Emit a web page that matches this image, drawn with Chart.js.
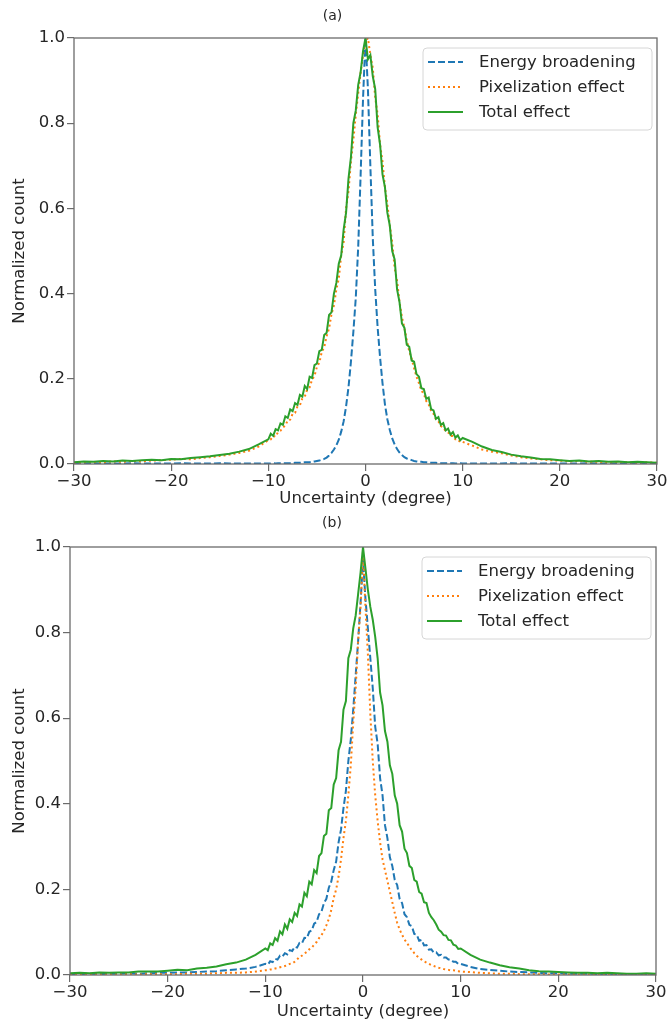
<!DOCTYPE html>
<html>
<head>
<meta charset="utf-8">
<title>Uncertainty distributions</title>
<script src="https://cdn.jsdelivr.net/npm/chart.js@4.4.1/dist/chart.umd.min.js"></script>
<style>
    html, body { margin: 0; padding: 0; background: #ffffff; }
    body { width: 672px; height: 1030px; position: relative; overflow: hidden; }
    canvas { position: absolute; left: 0; }
    #panel-a { top: 0; }
    #panel-b { top: 509px; }
</style>
</head>
<body>
<canvas id="panel-a" width="672" height="509"></canvas>
<canvas id="panel-b" width="672" height="521"></canvas>
<script>
/* ------------------------------------------------------------
   Data (normalized counts).
   x is the bin centre in degrees: 1 deg in the tails,
   0.25 deg between -10 and 10.
   ------------------------------------------------------------ */
const seriesNames = ['Energy broadening', 'Pixelization effect', 'Total effect'];
const xTicks = [-30, -20, -10, 0, 10, 20, 30];
const yTicks = [0, 0.2, 0.4, 0.6, 0.8, 1.0];

const xs = [
    -30, -29, -28, -27, -26, -25, -24, -23, -22, -21, -20, -19, -18, -17, -16, -15, -14, -13, -12, -11,
    -10, -9.75, -9.5, -9.25, -9, -8.75, -8.5, -8.25, -8, -7.75, -7.5, -7.25, -7, -6.75, -6.5, -6.25,
    -6, -5.75, -5.5, -5.25, -5, -4.75, -4.5, -4.25, -4, -3.75, -3.5, -3.25, -3, -2.75, -2.5, -2.25,
    -2, -1.75, -1.5, -1.25, -1, -0.75, -0.5, -0.25, 0, 0.25, 0.5, 0.75, 1, 1.25, 1.5, 1.75, 2,
    2.25, 2.5, 2.75, 3, 3.25, 3.5, 3.75, 4, 4.25, 4.5, 4.75, 5, 5.25, 5.5, 5.75, 6,
    6.25, 6.5, 6.75, 7, 7.25, 7.5, 7.75, 8, 8.25, 8.5, 8.75, 9, 9.25, 9.5, 9.75, 10,
    11, 12, 13, 14, 15, 16, 17, 18, 19, 20, 21, 22, 23, 24, 25, 26, 27, 28, 29, 30
];

// (a)
const energyA = [
    0.001, 0.001, 0.002, 0.001, 0.001, 0.001, 0.002, 0.001, 0.001, 0.001, 0.001, 0.002, 0.001, 0.001, 0.001, 0.002, 0.001, 0.001, 0.001, 0.001,
    0.001, 0.001, 0.002, 0.001, 0.002, 0.002, 0.002, 0.002, 0.002, 0.002, 0.002, 0.003, 0.003, 0.003, 0.003, 0.004,
    0.004, 0.004, 0.005, 0.006, 0.007, 0.008, 0.010, 0.012, 0.015, 0.020, 0.026, 0.034, 0.044, 0.057, 0.076, 0.10,
    0.135, 0.18, 0.24, 0.31, 0.39, 0.51, 0.68, 0.86, 1.0, 0.88, 0.70, 0.53, 0.41, 0.32, 0.25, 0.19, 0.14,
    0.105, 0.08, 0.06, 0.046, 0.035, 0.027, 0.021, 0.016, 0.013, 0.011, 0.009, 0.007, 0.006, 0.005, 0.005, 0.004,
    0.004, 0.003, 0.003, 0.003, 0.003, 0.002, 0.002, 0.002, 0.002, 0.002, 0.002, 0.002, 0.001, 0.001, 0.002, 0.001,
    0.001, 0.001, 0.001, 0.001, 0.002, 0.001, 0.001, 0.001, 0.001, 0.001, 0.001, 0.001, 0.002, 0.001, 0.001, 0.001, 0.001, 0.001, 0.001, 0.001
];
const pixelA = [
    0.003, 0.004, 0.005, 0.004, 0.006, 0.005, 0.007, 0.006, 0.008, 0.009, 0.010, 0.012, 0.011, 0.014, 0.016, 0.019, 0.022, 0.026, 0.031, 0.041,
    0.056, 0.058, 0.066, 0.064, 0.075, 0.078, 0.086, 0.090, 0.103, 0.104, 0.118, 0.120, 0.135, 0.138, 0.154, 0.158,
    0.175, 0.180, 0.198, 0.207, 0.228, 0.238, 0.263, 0.274, 0.300, 0.318, 0.352, 0.372, 0.41, 0.435, 0.49, 0.52,
    0.60, 0.64, 0.71, 0.76, 0.82, 0.87, 0.92, 0.96, 0.99, 1.0, 0.96, 0.93, 0.86, 0.82, 0.75, 0.71, 0.65,
    0.61, 0.56, 0.52, 0.46, 0.43, 0.38, 0.345, 0.32, 0.29, 0.265, 0.247, 0.225, 0.205, 0.19, 0.172, 0.165,
    0.148, 0.140, 0.125, 0.118, 0.105, 0.100, 0.089, 0.086, 0.077, 0.074, 0.066, 0.066, 0.058, 0.058, 0.051, 0.052,
    0.043, 0.034, 0.029, 0.025, 0.020, 0.016, 0.013, 0.011, 0.009, 0.008, 0.006, 0.007, 0.005, 0.005, 0.004, 0.005, 0.004, 0.003, 0.004, 0.003
];
const totalA = [
    0.004, 0.006, 0.005, 0.007, 0.006, 0.008, 0.007, 0.009, 0.010, 0.009, 0.012, 0.011, 0.014, 0.016, 0.018, 0.021, 0.024, 0.029, 0.035, 0.046,
    0.058, 0.071, 0.066, 0.082, 0.079, 0.095, 0.092, 0.112, 0.108, 0.128, 0.124, 0.143, 0.139, 0.162, 0.158, 0.183,
    0.176, 0.205, 0.202, 0.232, 0.236, 0.265, 0.268, 0.303, 0.308, 0.350, 0.356, 0.400, 0.425, 0.47, 0.49, 0.55,
    0.59, 0.67, 0.72, 0.80, 0.83, 0.89, 0.92, 0.97, 1.0, 0.95, 0.96, 0.91, 0.88, 0.79, 0.75, 0.68, 0.65,
    0.59, 0.56, 0.50, 0.48, 0.41, 0.38, 0.33, 0.32, 0.28, 0.275, 0.243, 0.24, 0.211, 0.205, 0.178, 0.176,
    0.153, 0.156, 0.129, 0.126, 0.106, 0.110, 0.092, 0.096, 0.079, 0.083, 0.069, 0.075, 0.062, 0.067, 0.056, 0.061,
    0.052, 0.041, 0.033, 0.028, 0.022, 0.018, 0.015, 0.012, 0.011, 0.009, 0.007, 0.008, 0.006, 0.007, 0.005, 0.006, 0.004, 0.005, 0.004, 0.003
];

// (b)
const energyB = [
    0.002, 0.002, 0.003, 0.002, 0.003, 0.003, 0.004, 0.003, 0.004, 0.005, 0.005, 0.006, 0.006, 0.007, 0.008, 0.009, 0.011, 0.013, 0.015, 0.019,
    0.026, 0.024, 0.032, 0.030, 0.038, 0.036, 0.045, 0.043, 0.051, 0.048, 0.058, 0.056, 0.066, 0.064, 0.075, 0.074,
    0.087, 0.086, 0.101, 0.104, 0.120, 0.124, 0.142, 0.148, 0.168, 0.178, 0.204, 0.218, 0.245, 0.265, 0.31, 0.34,
    0.39, 0.43, 0.50, 0.55, 0.62, 0.70, 0.78, 0.87, 0.97, 0.88, 0.81, 0.74, 0.67, 0.58, 0.54, 0.46, 0.42,
    0.35, 0.32, 0.275, 0.255, 0.222, 0.21, 0.178, 0.168, 0.142, 0.135, 0.117, 0.114, 0.096, 0.094, 0.080, 0.082,
    0.069, 0.070, 0.059, 0.060, 0.052, 0.053, 0.046, 0.047, 0.041, 0.041, 0.036, 0.036, 0.031, 0.031, 0.026, 0.026,
    0.019, 0.014, 0.012, 0.010, 0.008, 0.007, 0.006, 0.005, 0.004, 0.004, 0.003, 0.003, 0.003, 0.002, 0.002, 0.002, 0.002, 0.002, 0.001, 0.001
];
const pixelB = [
    0.001, 0.001, 0.001, 0.001, 0.001, 0.001, 0.002, 0.001, 0.002, 0.002, 0.002, 0.002, 0.003, 0.003, 0.003, 0.004, 0.005, 0.005, 0.006, 0.008,
    0.011, 0.011, 0.013, 0.013, 0.015, 0.016, 0.018, 0.019, 0.021, 0.023, 0.026, 0.027, 0.031, 0.036, 0.043, 0.045,
    0.050, 0.054, 0.060, 0.064, 0.071, 0.077, 0.086, 0.093, 0.103, 0.116, 0.131, 0.152, 0.18, 0.20, 0.23, 0.27,
    0.32, 0.36, 0.42, 0.49, 0.59, 0.67, 0.78, 0.86, 0.99, 0.86, 0.75, 0.61, 0.50, 0.42, 0.36, 0.31, 0.27,
    0.245, 0.22, 0.195, 0.17, 0.145, 0.122, 0.106, 0.094, 0.083, 0.075, 0.066, 0.058, 0.051, 0.045, 0.040, 0.036,
    0.032, 0.029, 0.026, 0.023, 0.021, 0.019, 0.017, 0.016, 0.014, 0.013, 0.012, 0.011, 0.011, 0.010, 0.009, 0.008,
    0.007, 0.005, 0.004, 0.003, 0.003, 0.002, 0.002, 0.002, 0.001, 0.001, 0.001, 0.001, 0.001, 0.001, 0.001, 0.001, 0.001, 0.001, 0.001, 0.001
];
const totalB = [
    0.004, 0.005, 0.004, 0.006, 0.005, 0.006, 0.006, 0.008, 0.008, 0.008, 0.010, 0.012, 0.011, 0.015, 0.017, 0.020, 0.025, 0.029, 0.036, 0.047,
    0.062, 0.058, 0.074, 0.070, 0.086, 0.080, 0.102, 0.095, 0.118, 0.108, 0.130, 0.124, 0.145, 0.138, 0.165, 0.160,
    0.192, 0.184, 0.218, 0.212, 0.245, 0.238, 0.278, 0.285, 0.325, 0.330, 0.385, 0.390, 0.445, 0.46, 0.525, 0.545,
    0.62, 0.64, 0.74, 0.76, 0.81, 0.84, 0.89, 0.94, 1.0, 0.95, 0.90, 0.86, 0.83, 0.79, 0.74, 0.66, 0.63,
    0.57, 0.545, 0.49, 0.47, 0.42, 0.40, 0.35, 0.335, 0.295, 0.285, 0.255, 0.25, 0.222, 0.218, 0.194, 0.19,
    0.170, 0.168, 0.145, 0.135, 0.128, 0.118, 0.106, 0.101, 0.093, 0.092, 0.082, 0.081, 0.071, 0.069, 0.061, 0.062,
    0.047, 0.036, 0.029, 0.023, 0.018, 0.015, 0.011, 0.009, 0.008, 0.007, 0.006, 0.005, 0.005, 0.004, 0.005, 0.004, 0.003, 0.003, 0.004, 0.003
];

/* ------------------------------------------------------------
   Look & layout
   ------------------------------------------------------------ */
const FONT = '"DejaVu Sans", sans-serif';
const TEXT = '#262626';
const SPINE = '#6b6b6b';
const COLORS = ['#1f77b4', '#ff7f0e', '#2ca02c'];
const DASHES = [[7, 3], [2, 3], []];

// plot box inside each canvas (pixels)
const geomA = { height: 509, left: 74, right: 657, top: 38, bottom: 464, titleTop: 8, xTitlePad: 0 };
const geomB = { height: 521, left: 70, right: 656, top: 38, bottom: 466, titleTop: 6, xTitlePad: 8 };

/**
 * frameAndLegend
 * Draws the four spines and a matplotlib-style legend in the upper right.
 */
const frameAndLegend = {
    id: 'frameAndLegend',
    afterDatasetsDraw(chart) {
        const { ctx, chartArea: a } = chart;
        ctx.save();
        ctx.strokeStyle = SPINE;
        ctx.lineWidth = 1.3;
        ctx.strokeRect(a.left, a.top, a.right - a.left, a.bottom - a.top);
        ctx.restore();
    },
    afterDraw(chart) {
        const { ctx, chartArea: a } = chart;
        const w = 229, h = 82;
        const x0 = a.right - 234, y0 = a.top + 10;

        ctx.save();
        // rounded frame
        const r = 4;
        ctx.beginPath();
        ctx.moveTo(x0 + r, y0);
        ctx.arcTo(x0 + w, y0, x0 + w, y0 + h, r);
        ctx.arcTo(x0 + w, y0 + h, x0, y0 + h, r);
        ctx.arcTo(x0, y0 + h, x0, y0, r);
        ctx.arcTo(x0, y0, x0 + w, y0, r);
        ctx.closePath();
        ctx.fillStyle = 'rgba(255,255,255,0.85)';
        ctx.fill();
        ctx.strokeStyle = '#d6d6d6';
        ctx.lineWidth = 1;
        ctx.stroke();

        ctx.font = '16.5px ' + FONT;
        ctx.fillStyle = TEXT;
        ctx.textBaseline = 'middle';
        chart.data.datasets.forEach((ds, i) => {
            const y = y0 + 14 + i * 25;
            ctx.beginPath();
            ctx.setLineDash(ds.borderDash || []);
            ctx.strokeStyle = ds.borderColor;
            ctx.lineWidth = 2;
            ctx.moveTo(x0 + 5, y);
            ctx.lineTo(x0 + 40, y);
            ctx.stroke();
            ctx.setLineDash([]);
            ctx.fillText(ds.label, x0 + 56, y + 1);
        });
        ctx.restore();
    }
};

/**
 * buildPanel
 * One subplot: three histogram lines on a fixed linear/linear frame.
 */
function buildPanel(canvasId, title, energy, pixel, total, g) {
    const toPoints = ys => xs.map((x, i) => ({ x: x, y: ys[i] }));
    const series = [energy, pixel, total];

    return new Chart(document.getElementById(canvasId), {
        type: 'line',
        data: {
            datasets: series.map((ys, i) => ({
                label: seriesNames[i],
                data: toPoints(ys),
                borderColor: COLORS[i],
                borderDash: DASHES[i],
                borderWidth: 2,
                fill: false,
                order: 3 - i  // total effect on top
            }))
        },
        options: {
            responsive: false,
            animation: false,
            elements: { point: { radius: 0 }, line: { tension: 0 } },
            layout: { padding: { left: 8, right: 672 - g.right, top: 0, bottom: 0 } },
            plugins: {
                legend: { display: false },
                tooltip: { enabled: false },
                title: {
                    display: true,
                    text: title,
                    color: TEXT,
                    font: { family: FONT, size: 14, weight: 'normal' },
                    padding: { top: g.titleTop, bottom: g.top - g.titleTop - 16.8 }
                }
            },
            scales: {
                x: {
                    type: 'linear',
                    min: xTicks[0],
                    max: xTicks[xTicks.length - 1],
                    afterFit: s => { s.height = g.height - g.bottom; },
                    afterBuildTicks: s => { s.ticks = xTicks.map(v => ({ value: v })); },
                    ticks: {
                        padding: 1,
                        color: TEXT,
                        font: { family: FONT, size: 16.5 },
                        maxRotation: 0,
                        callback: v => (v < 0 ? '\u2212' + Math.abs(v) : String(v))
                    },
                    grid: { drawOnChartArea: false, drawTicks: true, tickLength: 7, color: SPINE, lineWidth: 1.2 },
                    border: { display: false },
                    title: {
                        display: true,
                        text: 'Uncertainty (degree)',
                        color: TEXT,
                        font: { family: FONT, size: 16.5 },
                        padding: { top: 0, bottom: g.xTitlePad }
                    }
                },
                y: {
                    min: yTicks[0],
                    max: yTicks[yTicks.length - 1],
                    afterFit: s => { s.width = g.left - 8; },
                    afterBuildTicks: s => { s.ticks = yTicks.map(v => ({ value: v })); },
                    ticks: {
                        padding: 2,
                        color: TEXT,
                        font: { family: FONT, size: 16.5 },
                        callback: v => Number(v).toFixed(1)
                    },
                    grid: { drawOnChartArea: false, drawTicks: true, tickLength: 7, color: SPINE, lineWidth: 1.2 },
                    border: { display: false },
                    title: {
                        display: true,
                        text: 'Normalized count',
                        color: TEXT,
                        font: { family: FONT, size: 16.5 },
                        padding: { top: 2, bottom: 0 }
                    }
                }
            }
        },
        plugins: [frameAndLegend]
    });
}

document.addEventListener('DOMContentLoaded', () => {
    buildPanel('panel-a', '(a)', energyA, pixelA, totalA, geomA);
    buildPanel('panel-b', '(b)', energyB, pixelB, totalB, geomB);
});
</script>
</body>
</html>
